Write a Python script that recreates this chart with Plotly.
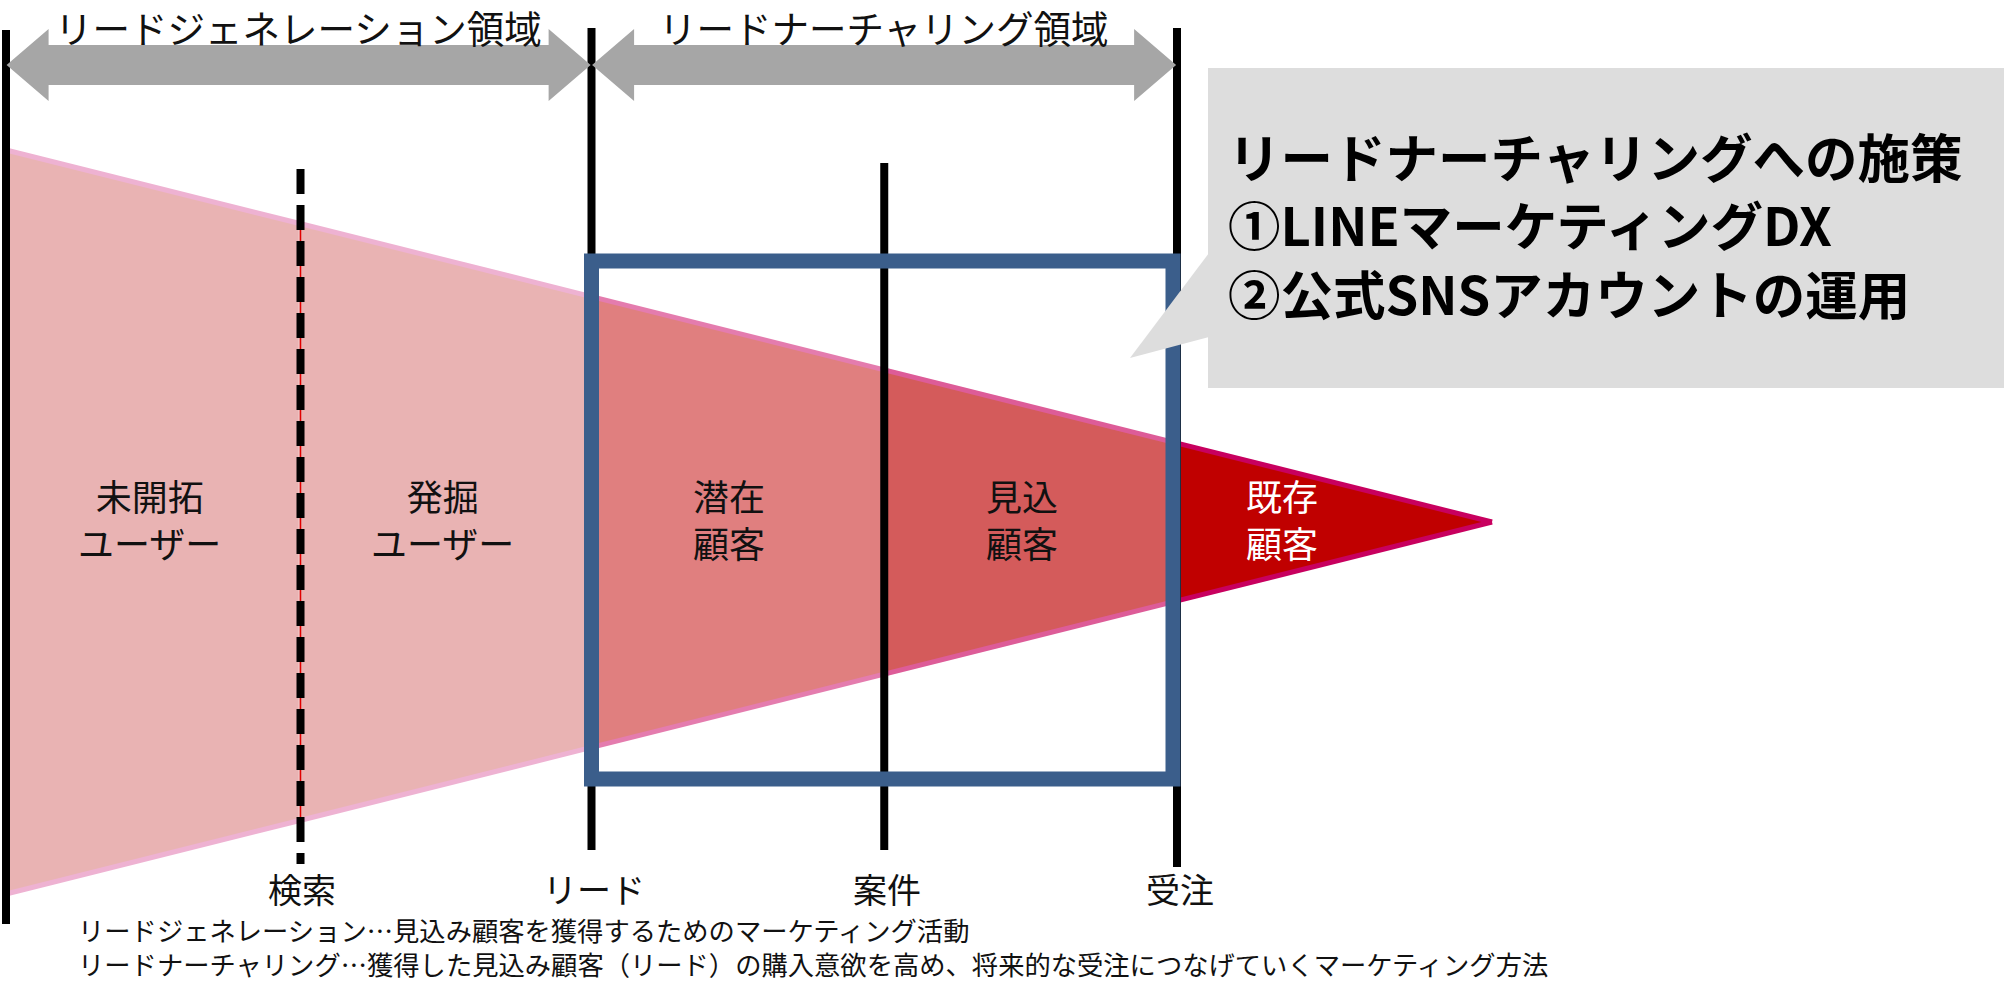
import plotly.graph_objects as go

# ---------------- data ----------------
boundary_stage = [0, 1, 2, 3, 4]                     # stage boundaries (x, stage units)
boundary_labels = ["", "検索", "リード", "案件", "受注"]
apex_stage = 5.076                                   # funnel tip
funnel_edges = [0, 1, 2, 3, 4, 5.076]                # segment edges
funnel_half = [1.0, 0.803, 0.606, 0.409, 0.212, 0.0] # half-height of funnel at each edge
segment_labels = ["未開拓<br>ユーザー", "発掘<br>ユーザー", "潜在<br>顧客", "見込<br>顧客", "既存<br>顧客"]
region_labels = ["リードジェネレーション領域", "リードナーチャリング領域"]
region_spans = [(0, 2), (2, 4)]
callout_lines = ["リードナーチャリングへの施策", "①LINEマーケティングDX", "②公式SNSアカウントの運用"]
footnotes = [
    "リードジェネレーション…見込み顧客を獲得するためのマーケティング活動",
    "リードナーチャリング…獲得した見込み顧客（リード）の購入意欲を高め、将来的な受注につなげていくマーケティング方法",
]

# ---------------- styles / layout ----------------
seg_fill = ["#E9B3B3", "#E9B3B3", "#E07F7F", "#D45B5B", "#C00000"]
seg_edge = ["#EEB2D2", "#EEB2D2", "#E47CAE", "#DD5C98", "#C8005F"]
seg_text = ["#111111", "#111111", "#111111", "#111111", "#FFFFFF"]
seg_label_x = [0.49, 1.49, 2.47, 3.47, 4.36]
FONT = "Noto Sans CJK JP"
W, H = 2008, 984


def X(px):
    return (px - 6) / 292.75


def Y(py):
    return (522 - py) / 372


fig = go.Figure()

# funnel segments
for i in range(len(segment_labels)):
    x0, x1 = funnel_edges[i], funnel_edges[i + 1]
    h0, h1 = funnel_half[i], funnel_half[i + 1]
    fig.add_trace(go.Scatter(
        x=[x0, x1, x1, x0, x0], y=[h0, h1, -h1, -h0, h0],
        mode="lines", fill="toself", fillcolor=seg_fill[i],
        line=dict(width=0, color=seg_fill[i]), hoverinfo="skip", showlegend=False))
for i in range(len(segment_labels)):
    x0, x1 = funnel_edges[i], funnel_edges[i + 1]
    h0, h1 = funnel_half[i], funnel_half[i + 1]
    for s in (1, -1):
        fig.add_trace(go.Scatter(
            x=[x0, x1], y=[s * h0, s * h1], mode="lines",
            line=dict(width=5, color=seg_edge[i]), hoverinfo="skip", showlegend=False))

shapes = []
# vertical stage lines (top px, bottom px)
line_ext = [(30, 924), (169, 864), (28, 850), (163, 850), (28, 867)]
for k, st in enumerate(boundary_stage):
    top, bot = line_ext[k]
    xs = st + (0.006 if k == 1 else 0)
    if k == 1:
        shapes.append(dict(type="line", xref="x", yref="y", x0=xs, x1=xs,
                           y0=funnel_half[1], y1=-funnel_half[1],
                           line=dict(color="#E00000", width=1.5), layer="above"))
        shapes.append(dict(type="line", xref="x", yref="y", x0=xs, x1=xs,
                           y0=Y(top), y1=Y(bot),
                           line=dict(color="#000000", width=8, dash="25px,11px"), layer="above"))
    else:
        shapes.append(dict(type="line", xref="x", yref="y", x0=xs, x1=xs,
                           y0=Y(top), y1=Y(bot),
                           line=dict(color="#000000", width=8), layer="above"))

# top double arrows
hl = 42 / 292.75
for (a, b) in region_spans:
    xa, xb = a + 0.002, b - 0.003
    cy, bt, bb, ht, hb = Y(65), Y(45), Y(85), Y(29), Y(101)
    pts = [(xa, cy), (xa + hl, ht), (xa + hl, bt), (xb - hl, bt), (xb - hl, ht), (xb, cy),
           (xb - hl, hb), (xb - hl, bb), (xa + hl, bb), (xa + hl, hb)]
    path = "M " + " L ".join(f"{px},{py}" for px, py in pts) + " Z"
    shapes.append(dict(type="path", xref="x", yref="y", path=path,
                       fillcolor="#A6A6A6", line=dict(width=0), layer="above"))

# blue rectangle around nurturing area
shapes.append(dict(type="rect", xref="x", yref="y", x0=2, x1=X(1173), y0=Y(261), y1=Y(779),
                   line=dict(color="#3B5E8B", width=15), fillcolor="rgba(0,0,0,0)", layer="above"))

# callout box + pointer
shapes.append(dict(type="rect", xref="x", yref="y", x0=X(1208), x1=X(2004), y0=Y(68), y1=Y(388),
                   fillcolor="#DDDDDD", line=dict(width=0), layer="above"))
ptr = [(1209, 253), (1130, 358), (1209, 337)]
shapes.append(dict(type="path", xref="x", yref="y",
                   path="M " + " L ".join(f"{X(a)},{Y(b)}" for a, b in ptr) + " Z",
                   fillcolor="#DDDDDD", line=dict(width=0), layer="above"))

annotations = []
# region labels
for lab, (a, b) in zip(region_labels, region_spans):
    annotations.append(dict(x=(a + b) / 2, y=Y(26), xref="x", yref="y", text=lab,
                            showarrow=False, xanchor="center", yanchor="middle", borderpad=0,
                            font=dict(family=FONT, size=37.5, color="#111111")))
# boundary labels
for st, lab in zip(boundary_stage, boundary_labels):
    if lab:
        annotations.append(dict(x=st + 0.01, y=Y(888), xref="x", yref="y", text=lab,
                                showarrow=False, xanchor="center", yanchor="middle", borderpad=0,
                                font=dict(family=FONT, size=34, color="#111111")))
# segment labels
for i, lab in enumerate(segment_labels):
    annotations.append(dict(x=seg_label_x[i], y=Y(518), xref="x", yref="y", text=lab,
                            showarrow=False, xanchor="center", yanchor="middle",
                            font=dict(family=FONT, size=36, color=seg_text[i])))
# callout text (one block)
annotations.append(dict(x=X(1227), y=Y(223), xref="x", yref="y",
                        text="<br>".join("<b>" + ln + "</b>" for ln in callout_lines),
                        showarrow=False, xanchor="left", yanchor="middle", align="left", borderpad=0,
                        font=dict(family=FONT, size=52.5, color="#000000")))
# footnotes (one block)
annotations.append(dict(x=X(77), y=Y(946), xref="x", yref="y", text="<br>".join(footnotes),
                        showarrow=False, xanchor="left", yanchor="middle", align="left", borderpad=0,
                        font=dict(family=FONT, size=26.3, color="#111111")))

fig.update_layout(
    width=W, height=H, autosize=False,
    margin=dict(l=0, r=0, t=0, b=0, pad=0),
    paper_bgcolor="white", plot_bgcolor="white",
    xaxis=dict(range=[X(0), X(W)], visible=False, fixedrange=True),
    yaxis=dict(range=[Y(H), Y(0)], visible=False, fixedrange=True),
    shapes=shapes, annotations=annotations, showlegend=False,
)

fig.write_html("out.html", config={"displayModeBar": False})
